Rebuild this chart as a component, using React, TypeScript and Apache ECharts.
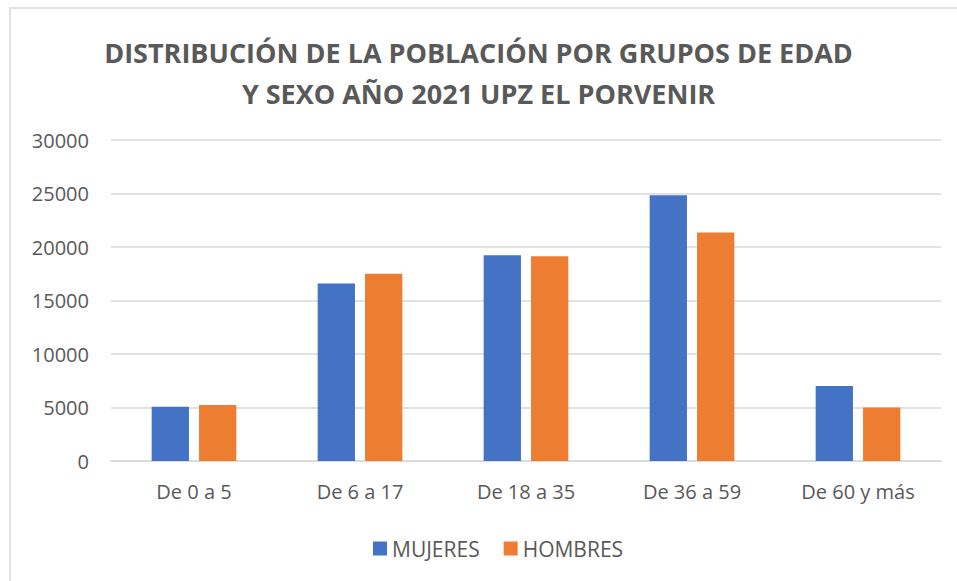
import React, { useEffect, useRef } from "react";
import * as echarts from "echarts";

const categories = ["De 0 a 5", "De 6 a 17", "De 18 a 35", "De 36 a 59", "De 60 y más"];
const mujeres = [5070, 16590, 19240, 24840, 7000];
const hombres = [5230, 17490, 19140, 21350, 5010];
const seriesNames = ["MUJERES", "HOMBRES"];
const titleText = "DISTRIBUCIÓN DE LA POBLACIÓN POR GRUPOS DE EDAD\nY SEXO AÑO 2021 UPZ EL PORVENIR";

const FONT = "'Open Sans', 'Noto Sans', sans-serif";
const GRAY = "#595959";

export default function App() {
  const ref = useRef<HTMLDivElement>(null);
  useEffect(() => {
    if (!ref.current) return;
    const chart = echarts.init(ref.current, null, { renderer: "svg" });
    chart.setOption({
      animation: false,
      backgroundColor: "#ffffff",
      textStyle: { fontFamily: FONT },
      title: {
        text: titleText,
        left: "center",
        top: 27,
        textStyle: {
          fontFamily: FONT,
          fontSize: 27,
          fontWeight: "bold",
          color: GRAY,
          lineHeight: 41,
        },
      },
      graphic: [
        {
          type: "rect",
          shape: { x: 10, y: 8, width: 1000, height: 700 },
          style: { fill: "none", stroke: "#d9d9d9", lineWidth: 1.5 },
          silent: true,
          z: -1,
        },
      ],
      legend: {
        data: seriesNames,
        left: 368,
        top: 533,
        icon: "rect",
        itemWidth: 14,
        itemHeight: 14,
        itemGap: 24,
        textStyle: { fontFamily: FONT, fontSize: 21, color: GRAY },
      },
      grid: { left: 111, right: 16, top: 140, bottom: 120, containLabel: false },
      xAxis: {
        type: "category",
        data: categories,
        axisLine: { lineStyle: { color: "#d9d9d9", width: 1.5 } },
        axisTick: { show: false },
        axisLabel: { fontFamily: FONT, fontSize: 20, color: GRAY, margin: 20 },
      },
      yAxis: {
        type: "value",
        min: 0,
        max: 30000,
        interval: 5000,
        axisLine: { show: false },
        axisTick: { show: false },
        splitLine: { lineStyle: { color: "#d9d9d9", width: 1.5 } },
        axisLabel: {
          fontFamily: FONT,
          fontSize: 20,
          color: GRAY,
          margin: 22,
          formatter: (v: number) => String(v),
        },
      },
      series: [
        {
          name: seriesNames[0],
          type: "bar",
          data: mujeres,
          itemStyle: { color: "#4472C4" },
          barGap: "27%",
          barCategoryGap: "49%",
        },
        {
          name: seriesNames[1],
          type: "bar",
          data: hombres,
          itemStyle: { color: "#ED7D31" },
          barGap: "27%",
          barCategoryGap: "49%",
        },
      ],
    });
    return () => chart.dispose();
  }, []);
  return (
    <div
      ref={ref}
      style={{ position: "fixed", left: 0, top: 0, width: 957, height: 581 }}
    />
  );
}
